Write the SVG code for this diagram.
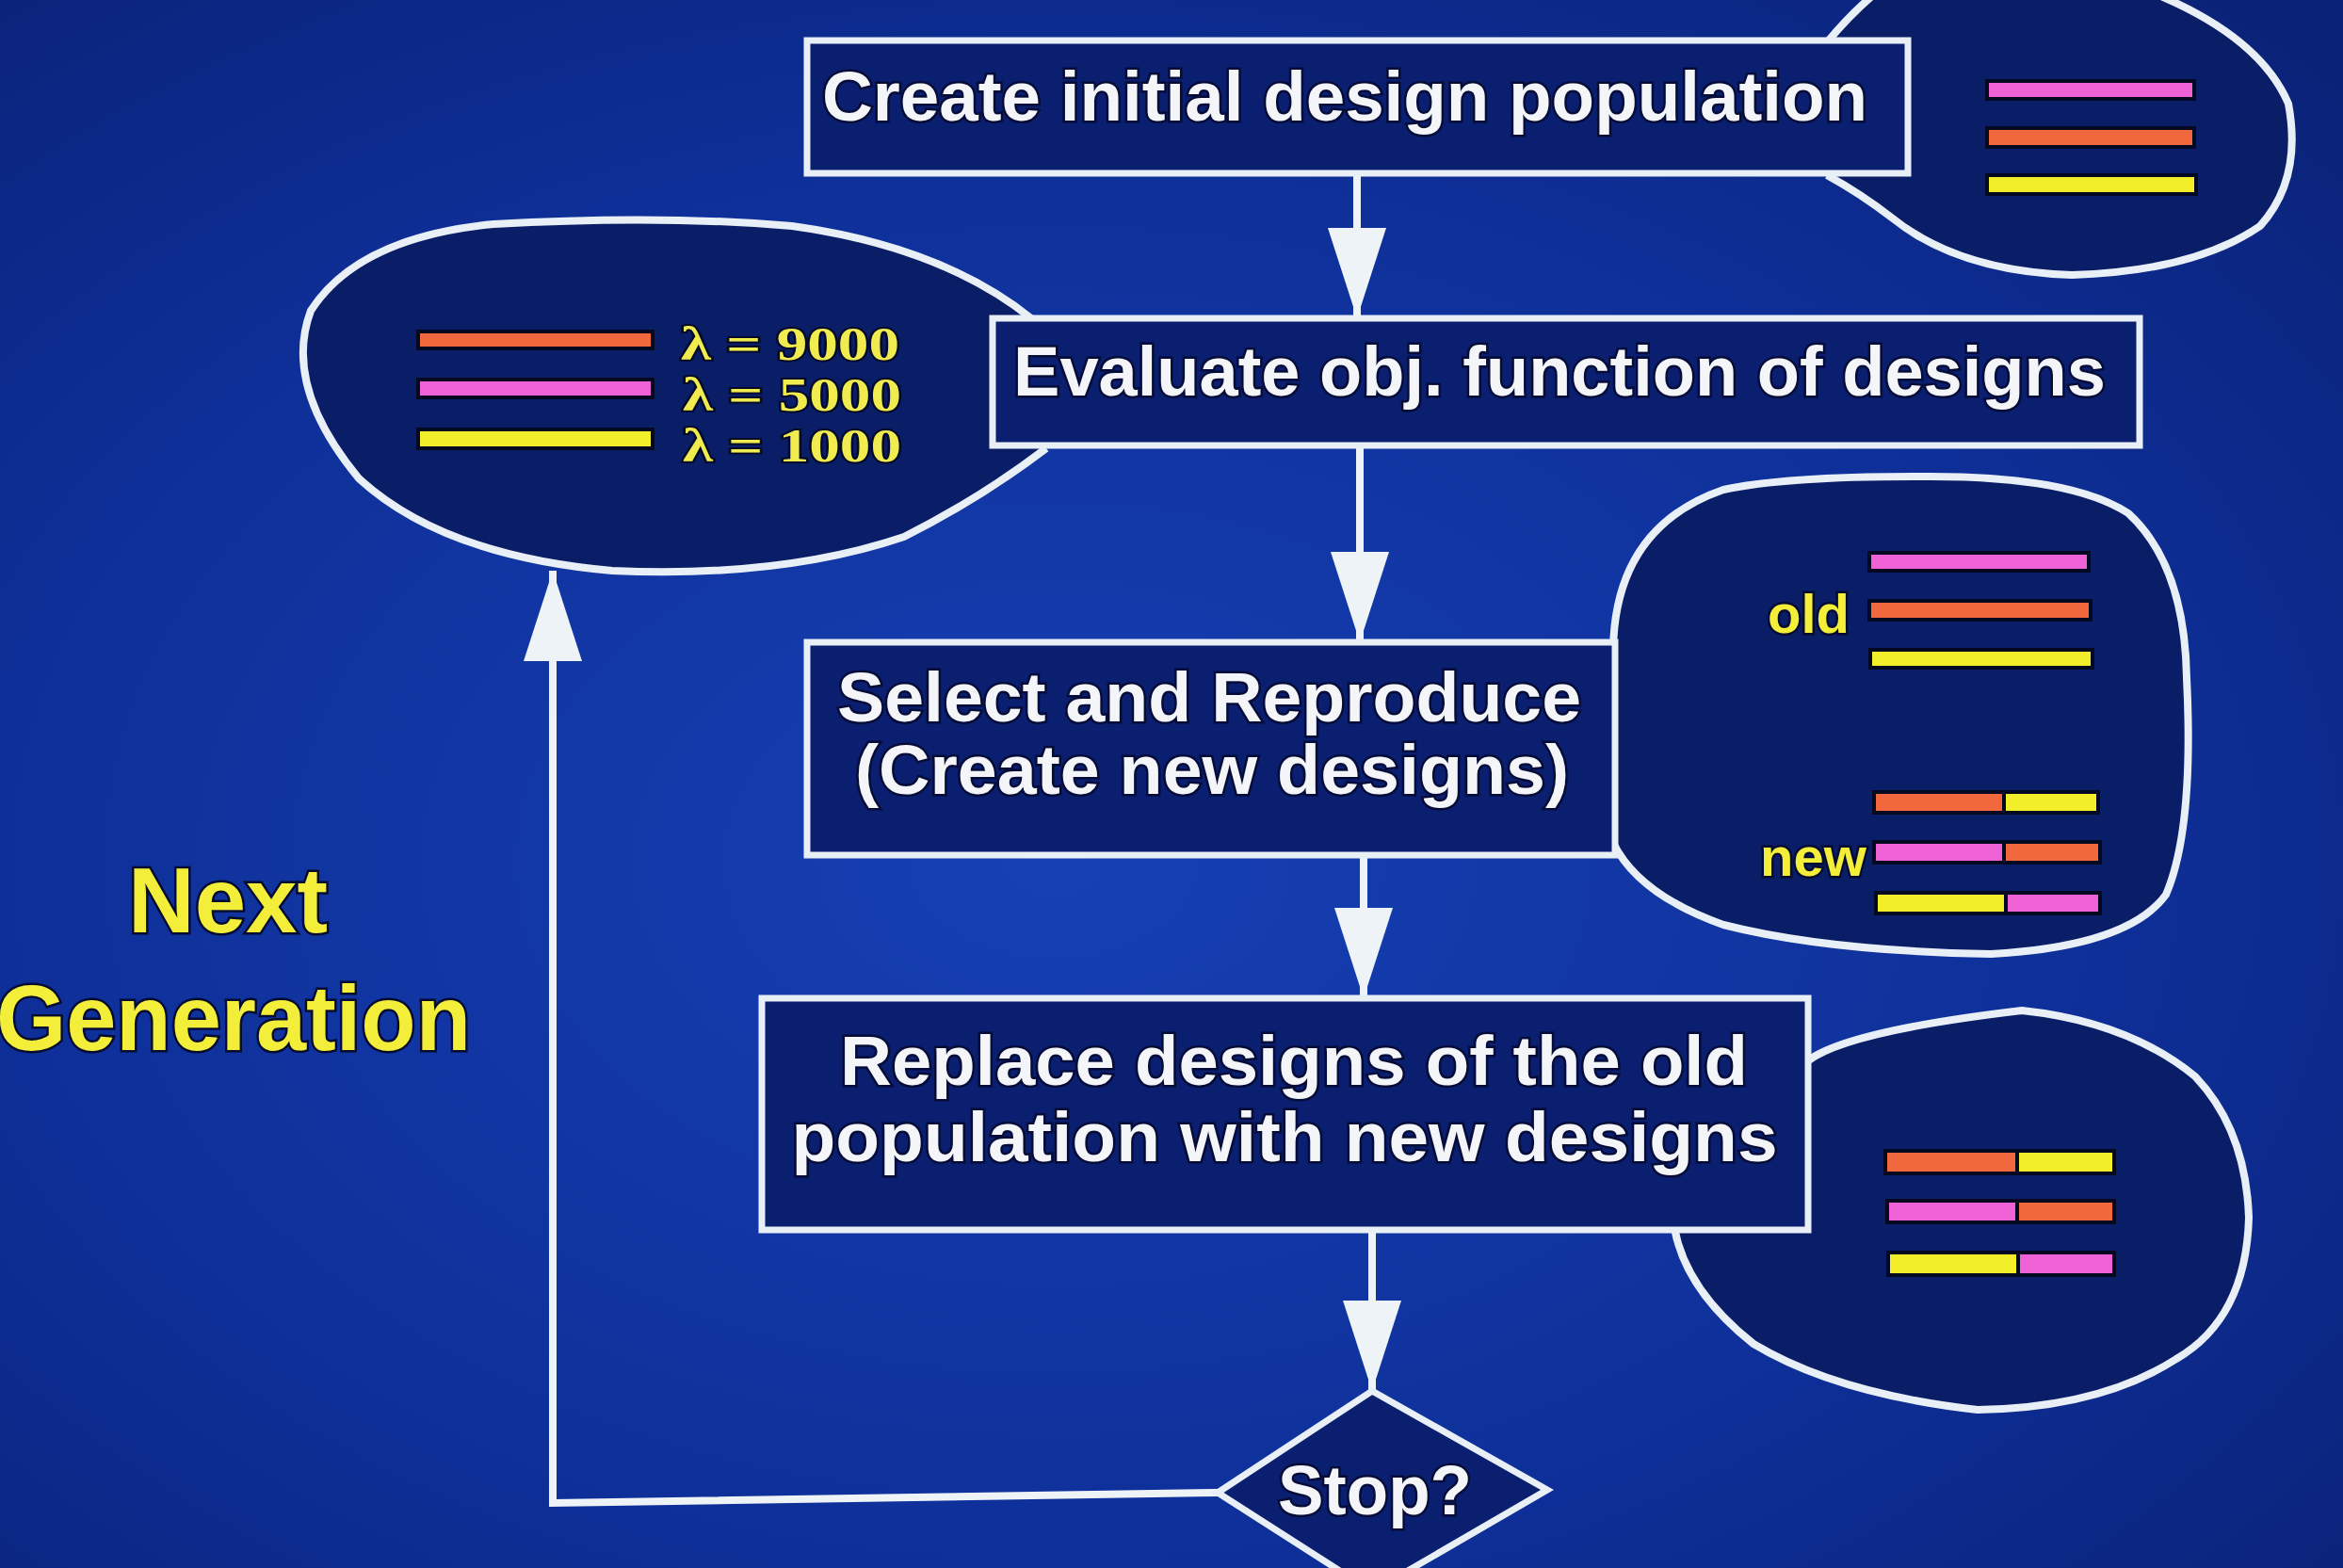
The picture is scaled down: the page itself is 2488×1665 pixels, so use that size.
<svg xmlns="http://www.w3.org/2000/svg" width="2488" height="1665" viewBox="0 0 2488 1665">
<defs>
<radialGradient id="bg" cx="0.45" cy="0.55" r="0.75">
<stop offset="0" stop-color="#1640b4"/>
<stop offset="0.6" stop-color="#0e2f98"/>
<stop offset="1" stop-color="#0a2277"/>
</radialGradient>
<marker id="ah" markerUnits="userSpaceOnUse" markerWidth="98" markerHeight="64" refX="96" refY="31" orient="auto">
<path d="M0,0 L96,31 L0,62 z" fill="#eef3f8"/>
</marker>
<style>
.box{fill:#0b1f70;stroke:#e9eff6;stroke-width:7}
.blob{fill:#0a1e68;stroke:#e9eff6;stroke-width:8;stroke-linejoin:round}
.con{fill:none;stroke:#eef3f8;stroke-width:8}
.t{font-family:"Liberation Sans",Arial,sans-serif;font-weight:bold;font-size:74px;fill:#f3f5f8;stroke:#060c38;stroke-width:5;paint-order:stroke;text-anchor:middle}
.y{font-family:"Liberation Sans",Arial,sans-serif;font-weight:bold;fill:#f2ee3a;stroke:#060c30;stroke-width:5;paint-order:stroke}
.lam{font-family:"Liberation Serif","Times New Roman",serif;font-weight:bold;font-size:50px;fill:#f0ec50;stroke:#050a28;stroke-width:4;paint-order:stroke}
.bar{stroke:#040820;stroke-width:4}
.o{fill:#f0683c}.p{fill:#ee62d6}.yl{fill:#f2ef2a}
</style>
</defs>
<rect width="2488" height="1665" fill="url(#bg)"/>

<g id="blob-lambda">
<path class="blob" d="M1095,338 Q1000,262 841,240 Q700,228 524,238 Q380,252 330,330 Q300,410 381,508 Q470,590 650,606 Q830,614 960,570 Q1040,530 1111,476"/>
<rect class="bar o" x="444" y="352" width="249" height="18"/>
<rect class="bar p" x="444" y="403" width="249" height="19"/>
<rect class="bar yl" x="444" y="456" width="249" height="20"/>
<text class="lam" x="723" y="382" textLength="232" lengthAdjust="spacingAndGlyphs">λ = 9000</text>
<text class="lam" x="725" y="436" textLength="232" lengthAdjust="spacingAndGlyphs">λ = 5000</text>
<text class="lam" x="725" y="490" textLength="232" lengthAdjust="spacingAndGlyphs">λ = 1000</text>
</g>

<g id="blob-initial">
<path class="blob" d="M1940,45 Q1965,15 1990,-6 L2290,-6 Q2400,40 2430,110 Q2445,190 2400,240 Q2330,288 2200,292 Q2080,288 2010,232 Q1975,205 1940,186"/>
<rect class="bar p" x="2110" y="86" width="220" height="19"/>
<rect class="bar o" x="2110" y="136" width="220" height="20"/>
<rect class="bar yl" x="2110" y="186" width="222" height="20"/>
</g>

<g id="blob-reproduce">
<path class="blob" d="M1713,690 Q1715,560 1830,520 Q1900,505 2050,506 Q2200,506 2260,545 Q2320,600 2322,720 Q2330,880 2300,950 Q2260,1005 2114,1013 Q1940,1010 1830,982 Q1740,950 1713,895"/>
<rect class="bar p" x="1985" y="587" width="233" height="19"/>
<rect class="bar o" x="1985" y="638" width="235" height="20"/>
<rect class="bar yl" x="1986" y="690" width="236" height="19"/>
<text class="y" x="1877" y="672" font-size="58">old</text>
<rect class="bar o" x="1990" y="841" width="138" height="22"/>
<rect class="bar yl" x="2128" y="841" width="100" height="22"/>
<rect class="bar p" x="1990" y="894" width="138" height="22"/>
<rect class="bar o" x="2128" y="894" width="102" height="22"/>
<rect class="bar yl" x="1992" y="948" width="138" height="22"/>
<rect class="bar p" x="2130" y="948" width="100" height="22"/>
<text class="y" x="1869" y="930" font-size="58">new</text>
</g>

<g id="blob-replace">
<path class="blob" d="M1919,1127 Q1960,1095 2147,1073 Q2260,1085 2331,1143 Q2385,1200 2388,1293 Q2385,1400 2311,1443 Q2230,1495 2100,1497 Q1950,1480 1862,1427 Q1790,1370 1778,1304"/>
<rect class="bar o" x="2002" y="1222" width="140" height="24"/>
<rect class="bar yl" x="2142" y="1222" width="103" height="24"/>
<rect class="bar p" x="2004" y="1275" width="138" height="23"/>
<rect class="bar o" x="2142" y="1275" width="103" height="23"/>
<rect class="bar yl" x="2005" y="1330" width="138" height="24"/>
<rect class="bar p" x="2143" y="1330" width="102" height="24"/>
</g>

<g id="connectors">
<line class="con" x1="1441" y1="184" x2="1441" y2="338" marker-end="url(#ah)"/>
<line class="con" x1="1444" y1="473" x2="1444" y2="682" marker-end="url(#ah)"/>
<line class="con" x1="1448" y1="908" x2="1448" y2="1060" marker-end="url(#ah)"/>
<line class="con" x1="1457" y1="1306" x2="1457" y2="1477" marker-end="url(#ah)"/>
<path class="con" d="M1293,1585 L587,1596 L587,606" marker-end="url(#ah)"/>
</g>

<g id="node-create">
<rect class="box" x="857" y="43" width="1169" height="141"/>
<text class="t" x="1428" y="128" textLength="1110" lengthAdjust="spacingAndGlyphs">Create initial design population</text>
</g>

<g id="node-evaluate">
<rect class="box" x="1054" y="338" width="1218" height="135"/>
<text class="t" x="1656" y="420" textLength="1160" lengthAdjust="spacingAndGlyphs">Evaluate obj. function of designs</text>
</g>

<g id="node-select">
<rect class="box" x="857" y="682" width="858" height="226"/>
<text class="t" x="1284" y="766" textLength="790" lengthAdjust="spacingAndGlyphs">Select and Reproduce</text>
<text class="t" x="1287" y="843" textLength="758" lengthAdjust="spacingAndGlyphs">(Create new designs)</text>
</g>

<g id="node-replace">
<rect class="box" x="809" y="1060" width="1111" height="246"/>
<text class="t" x="1374" y="1152" textLength="964" lengthAdjust="spacingAndGlyphs">Replace designs of the old</text>
<text class="t" x="1364" y="1233" textLength="1047" lengthAdjust="spacingAndGlyphs">population with new designs</text>
</g>

<g id="node-stop">
<polygon class="box" points="1457,1477 1643,1582 1457,1690 1293,1585"/>
<text class="t" x="1460" y="1608" textLength="206" lengthAdjust="spacingAndGlyphs">Stop?</text>
</g>

<g id="label-next-generation">
<text class="y" x="136" y="990" font-size="98" textLength="212" lengthAdjust="spacingAndGlyphs">Next</text>
<text class="y" x="-4" y="1115" font-size="98" textLength="504" lengthAdjust="spacingAndGlyphs">Generation</text>
</g>
</svg>
